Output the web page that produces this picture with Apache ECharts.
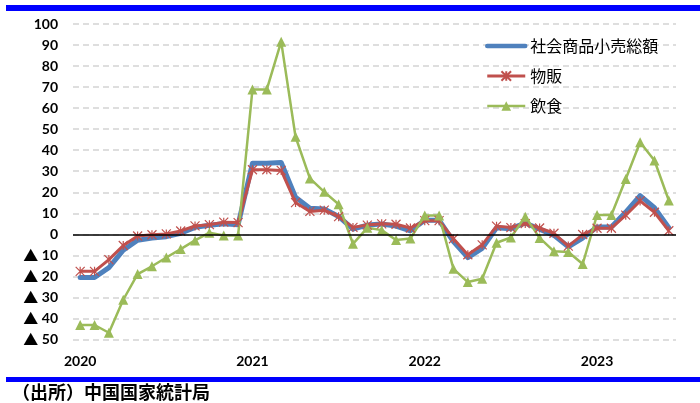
<!DOCTYPE html>
<html>
<head>
<meta charset="utf-8">
<script src="https://cdn.jsdelivr.net/npm/echarts@6/dist/echarts.min.js"></script>
<style>
  html, body { margin: 0; padding: 0; background: #fff; }
  #chart { width: 700px; height: 403px; }
</style>
</head>
<body>
<div id="chart"></div>
<script>
// 月次（1-2月は合算値を両月に表示）
const months = [
  '2020-01','2020-02','2020-03','2020-04','2020-05','2020-06','2020-07','2020-08','2020-09','2020-10','2020-11','2020-12',
  '2021-01','2021-02','2021-03','2021-04','2021-05','2021-06','2021-07','2021-08','2021-09','2021-10','2021-11','2021-12',
  '2022-01','2022-02','2022-03','2022-04','2022-05','2022-06','2022-07','2022-08','2022-09','2022-10','2022-11','2022-12',
  '2023-01','2023-02','2023-03','2023-04','2023-05','2023-06'
];
// 社会商品小売総額
const retail = [
  -20.5, -20.5, -15.8, -7.5, -2.8, -1.8, -1.1, 0.5, 3.3, 4.3, 5.0, 4.6,
  33.8, 33.8, 34.2, 17.7, 12.4, 12.1, 8.5, 2.5, 4.4, 4.9, 3.9, 1.7,
  6.7, 6.7, -3.5, -11.1, -6.7, 3.1, 2.7, 5.4, 2.5, -0.5, -5.9, -1.8,
  3.5, 3.5, 10.6, 18.4, 12.7, 3.1
];
// 物販
const goods = [
  -17.6, -17.6, -12.0, -5.3, -0.8, -0.2, 0.2, 1.6, 4.0, 4.6, 5.8, 5.6,
  30.7, 30.7, 30.4, 15.1, 10.9, 11.5, 8.4, 3.3, 4.4, 5.0, 4.8, 3.0,
  6.5, 6.5, -2.1, -9.7, -5.0, 3.9, 3.2, 5.1, 3.0, 0.5, -5.6, -0.1,
  2.9, 2.9, 9.1, 15.9, 10.5, 1.7
];
// 飲食
const catering = [
  -43.1, -43.1, -46.8, -31.1, -18.9, -15.2, -11.0, -7.0, -2.9, 0.8, -0.6, -0.5,
  68.9, 68.9, 91.6, 46.4, 26.6, 20.2, 14.3, -4.5, 3.1, 2.0, -2.7, -2.0,
  8.9, 8.9, -16.4, -22.7, -21.1, -4.0, -1.5, 8.4, -1.7, -8.1, -8.4, -14.1,
  9.2, 9.2, 26.3, 43.8, 35.1, 16.1
];
const seriesNames = ['社会商品小売総額', '物販', '飲食'];
const yMin = -50, yMax = 100, yStep = 10;
const sourceNote = '（出所）中国国家統計局';

const myChart = echarts.init(document.getElementById('chart'), null, { renderer: 'canvas' });
const labelFont = 'Lato, "Noto Sans", sans-serif';
const cjkFont = '"Noto Sans CJK JP", sans-serif';

let option = {
  animation: false,
  backgroundColor: '#fff',
  color: ['#4F81BD', '#C0504D', '#9BBB59'],
  grid: { left: 73, right: 24, top: 24, bottom: 63.5 },
  legend: {
    data: [
      { name: seriesNames[0], itemStyle: { opacity: 0 }, lineStyle: { width: 4.5 } },
      { name: seriesNames[1], lineStyle: { width: 3 } },
      { name: seriesNames[2], lineStyle: { width: 2.5 } }
    ],
    orient: 'vertical',
    left: 480,
    top: 33,
    itemWidth: 38,
    itemHeight: 12,
    itemGap: 14,
    textStyle: { fontFamily: cjkFont, fontSize: 16, color: '#000', lineHeight: 16 }
  },
  xAxis: {
    type: 'category',
    data: months,
    boundaryGap: true,
    axisLine: { show: false },
    axisTick: { show: false },
    axisLabel: {
      interval: (i) => i % 12 === 0,
      formatter: (v) => v.slice(0, 4),
      margin: 15,
      color: '#000',
      fontFamily: labelFont,
      fontWeight: 'bold',
      fontSize: 14
    }
  },
  yAxis: {
    type: 'value',
    min: yMin,
    max: yMax,
    interval: yStep,
    axisLine: { show: false },
    axisTick: { show: false },
    splitLine: { lineStyle: { color: '#d4d4d4', width: 1.5, type: [6, 4] } },
    axisLabel: {
      margin: 15,
      color: '#000',
      fontFamily: labelFont,
      fontWeight: 'bold',
      fontSize: 14,
      formatter: (v) => v < 0 ? '{t|▲} ' + (-v) : String(v),
      rich: {
        t: { fontFamily: cjkFont, fontSize: 15, color: '#000' }
      }
    }
  },
  series: [
    {
      name: seriesNames[0],
      type: 'line',
      data: retail,
      symbol: 'none',
      lineStyle: { width: 5, color: '#4F81BD', join: 'round', cap: 'round' },
      itemStyle: { color: '#4F81BD' },
      markLine: {
        silent: true,
        symbol: 'none',
        label: { show: false },
        lineStyle: { color: '#000', width: 1.5, type: 'solid' },
        data: [{ yAxis: 0 }]
      }
    },
    {
      name: seriesNames[1],
      type: 'line',
      data: goods,
      symbol: 'path://M0 0L10 10M10 0L0 10M5 0L5 10',
      symbolSize: 9,
      showAllSymbol: true,
      lineStyle: { width: 3, color: '#C0504D', join: 'round' },
      itemStyle: { color: '#C0504D', borderColor: '#C0504D', borderWidth: 1.2 }
    },
    {
      name: seriesNames[2],
      type: 'line',
      data: catering,
      symbol: 'triangle',
      symbolSize: 10,
      showAllSymbol: true,
      lineStyle: { width: 2.5, color: '#9BBB59', join: 'round' },
      itemStyle: { color: '#9BBB59' }
    }
  ],
  graphic: [
    { type: 'rect', left: 6, top: 5, shape: { width: 694, height: 6 }, style: { fill: '#0000FF' }, silent: true },
    { type: 'rect', left: 6, top: 377, shape: { width: 694, height: 5 }, style: { fill: '#0000FF' }, silent: true },
    {
      type: 'text', left: 12, top: 383,
      style: { text: sourceNote, fontFamily: cjkFont, fontWeight: 'bold', fontSize: 18, fill: '#000' }
    }
  ]
};

option && myChart.setOption(option);
</script>
</body>
</html>
